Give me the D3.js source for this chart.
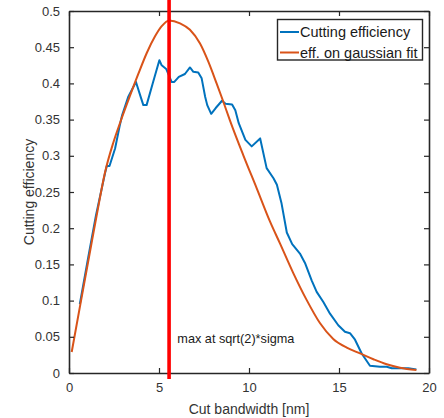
<!DOCTYPE html>
<html>
<head>
<meta charset="utf-8">
<script src="https://cdn.jsdelivr.net/npm/d3@7"></script>
<style>
  html, body { margin: 0; padding: 0; background: #fff; }
  svg { display: block; font-family: "Liberation Sans", Arial, sans-serif; }
</style>
</head>
<body>
<svg id="chart" width="444" height="418"></svg>
<script>
// ---- data ----
const xTicks = [0, 5, 10, 15, 20];
const yTicks = [0, 0.05, 0.1, 0.15, 0.2, 0.25, 0.3, 0.35, 0.4, 0.45, 0.5];
const yTickLabels = ["0", "0.05", "0.1", "0.15", "0.2", "0.25", "0.3", "0.35", "0.4", "0.45", "0.5"];

const cutX = [0.6, 1.07, 1.5, 2.0, 2.1, 2.25, 2.56, 2.83, 2.95, 3.3, 3.72, 4.0, 4.13, 4.31, 4.65, 5.02, 5.15, 5.4, 5.7, 5.85, 6.1, 6.44, 6.72, 6.91, 7.18, 7.37, 7.56, 7.68, 7.9, 8.15, 8.5, 8.7, 9.06, 9.24, 9.43, 9.8, 10.15, 10.62, 10.98, 11.36, 11.55, 11.81, 12.1, 12.4, 12.83, 13.11, 13.48, 13.76, 14.13, 14.5, 14.96, 15.33, 15.61, 15.89, 16.26, 16.72, 17.28, 17.65, 17.93, 18.39, 18.85, 19.3];
const cutY = [0.095, 0.16, 0.218, 0.276, 0.286, 0.286, 0.31, 0.343, 0.356, 0.382, 0.402, 0.38, 0.37, 0.37, 0.4, 0.432, 0.425, 0.42, 0.402, 0.402, 0.409, 0.413, 0.422, 0.416, 0.415, 0.407, 0.382, 0.37, 0.358, 0.366, 0.376, 0.372, 0.371, 0.363, 0.345, 0.322, 0.313, 0.324, 0.283, 0.269, 0.26, 0.234, 0.194, 0.178, 0.165, 0.152, 0.128, 0.112, 0.098, 0.082, 0.066, 0.057, 0.055, 0.046, 0.027, 0.01, 0.0087, 0.0087, 0.0065, 0.0065, 0.0065, 0.005];

const fitX = [0.15, 0.61, 0.89, 1.17, 1.54, 2.0, 2.46, 2.83, 3.39, 3.85, 4.32, 4.78, 5.15, 5.56, 6.17, 6.72, 7.28, 7.74, 8.2, 8.57, 8.94, 9.68, 10.43, 11.17, 11.72, 12.46, 13.2, 13.94, 14.68, 15.43, 16.17, 16.91, 17.65, 18.39, 19.3];
const fitY = [0.029, 0.092, 0.13, 0.168, 0.218, 0.277, 0.318, 0.345, 0.383, 0.413, 0.442, 0.465, 0.479, 0.487, 0.483, 0.474, 0.455, 0.43, 0.4, 0.375, 0.349, 0.301, 0.255, 0.209, 0.179, 0.138, 0.101, 0.069, 0.047, 0.035, 0.027, 0.019, 0.012, 0.0073, 0.004];

const maxX = 5.56;
const seriesNames = ["Cutting efficiency", "eff. on gaussian fit"];
const annotation = "max at sqrt(2)*sigma";
const xLabel = "Cut bandwidth [nm]";
const yLabel = "Cutting efficiency";

// ---- layout ----
const svg = d3.select("#chart");
const L = 69, R = 429, T = 11, B = 373;
const x = d3.scaleLinear().domain([0, 20]).range([L, R]);
const y = d3.scaleLinear().domain([0, 0.5]).range([B, T]);
const axisColor = "#262626";
const textColor = "#333";
const blue = "#0072BD", orange = "#D95319";

const cutData = cutX.map((d, i) => [d, cutY[i]]);
const fitData = fitX.map((d, i) => [d, fitY[i]]);

svg.append("path").datum(cutData)
  .attr("fill", "none").attr("stroke", blue).attr("stroke-width", 2)
  .attr("stroke-linejoin", "round")
  .attr("d", d3.line().x(d => x(d[0])).y(d => y(d[1])));

svg.append("path").datum(fitData)
  .attr("fill", "none").attr("stroke", orange).attr("stroke-width", 2)
  .attr("d", d3.line().curve(d3.curveMonotoneX).x(d => x(d[0])).y(d => y(d[1])));

// axes (box with inward ticks)
const tickLen = -5;
const gx = svg.append("g").attr("transform", `translate(0,${B})`)
  .call(d3.axisBottom(x).tickValues(xTicks).tickSizeInner(tickLen).tickSizeOuter(0).tickPadding(10));
const gxt = svg.append("g").attr("transform", `translate(0,${T})`)
  .call(d3.axisTop(x).tickValues(xTicks).tickSizeInner(tickLen).tickSizeOuter(0).tickFormat(""));
const gy = svg.append("g").attr("transform", `translate(${L},0)`)
  .call(d3.axisLeft(y).tickValues(yTicks).tickSizeInner(tickLen).tickSizeOuter(0).tickPadding(9)
    .tickFormat((d, i) => yTickLabels[i]));
const gyr = svg.append("g").attr("transform", `translate(${R},0)`)
  .call(d3.axisRight(y).tickValues(yTicks).tickSizeInner(tickLen).tickSizeOuter(0).tickFormat(""));

[gx, gxt, gy, gyr].forEach(g => {
  g.select(".domain").attr("stroke", axisColor).attr("stroke-width", 1.6);
  g.selectAll(".tick line").attr("stroke", axisColor).attr("stroke-width", 1.2);
  g.selectAll(".tick text").attr("fill", textColor).style("font-size", "13px")
    .style("font-family", '"Liberation Sans", Arial, sans-serif');
});

// red vertical line
svg.append("line")
  .attr("x1", x(maxX)).attr("x2", x(maxX))
  .attr("y1", y(0.5152)).attr("y2", y(-0.0083))
  .attr("stroke", "#ff0000").attr("stroke-width", 3.6);

// annotation
svg.append("text")
  .attr("x", x(6.02)).attr("y", y(0.048))
  .attr("dy", "0.35em")
  .attr("fill", "#1a1a1a").style("font-size", "12.7px")
  .text(annotation);

// axis labels
svg.append("text")
  .attr("x", (L + R) / 2).attr("y", 414)
  .attr("text-anchor", "middle").attr("fill", textColor)
  .style("font-size", "14px").text(xLabel);

svg.append("text")
  .attr("transform", `translate(34,${(T + B) / 2}) rotate(-90)`)
  .attr("text-anchor", "middle").attr("fill", textColor)
  .style("font-size", "14px").text(yLabel);

// legend
const lg = svg.append("g");
lg.append("rect")
  .attr("x", 277.5).attr("y", 19.5).attr("width", 145).attr("height", 40.5)
  .attr("fill", "#fff").attr("stroke", axisColor).attr("stroke-width", 1.4);
[blue, orange].forEach((c, i) => {
  const ly = 32 + i * 20.5;
  lg.append("line").attr("x1", 280).attr("x2", 299).attr("y1", ly).attr("y2", ly)
    .attr("stroke", c).attr("stroke-width", 2);
  lg.append("text").attr("x", 300).attr("y", ly).attr("dy", "0.36em")
    .attr("fill", "#1a1a1a").style("font-size", "14.5px").text(seriesNames[i]);
});
</script>
</body>
</html>
